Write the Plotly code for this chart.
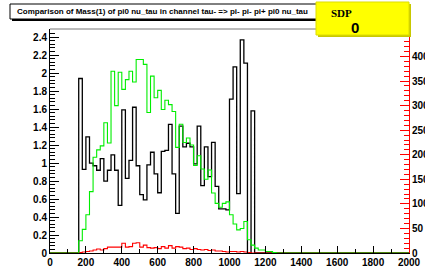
import plotly.graph_objects as go

# ---- data (bin width 20 MeV, 0..2000) ----
bin_width = 20
first_bin_black = 8
black_vals = [1.94, 0.93, 1.29, 1.00, 0.97, 0.92, 1.05, 0.80, 0.92, 1.09,
              0.92, 0.53, 1.59, 0.83, 1.03, 1.62, 0.97, 0.65, 0.59, 0.98,
              1.12, 0.88, 0.67, 1.13, 1.14, 1.43, 0.88, 0.44, 1.41, 1.18,
              1.22, 1.18, 0.99, 1.41, 0.75, 1.18, 0.85, 1.23, 0.74, 0.49,
              0.49, 0.48, 1.71, 2.07, 0.66, 2.37, 2.11, 0.00, 1.58]
first_bin_green = 8
green_vals = [25, 48, 78, 125, 195, 210, 218, 265, 224, 370,
              300, 368, 333, 353, 370, 348, 394, 394, 384, 286,
              360, 316, 331, 292, 311, 302, 288, 215, 262, 225,
              234, 220, 178, 198, 171, 150, 169, 122, 101, 93,
              101, 104, 78, 59, 47, 50, 64, 27, 16, 10,
              6, 6, 3, 3, 1]
first_bin_red = 8
red_vals = [1, 2, 3, 4, 6, 8, 6, 9, 12, 12,
            12, 12, 20, 12, 13, 20, 21, 12, 16, 11,
            10, 11, 9, 13, 10, 15, 10, 13, 12, 9,
            10, 7, 9, 7, 6, 7, 5, 6, 4, 4,
            3, 2, 3, 3, 2, 3, 2, 1, 0]

x_ticks = [0, 200, 400, 600, 800, 1000, 1200, 1400, 1600, 1800, 2000]
right_ticks = [0, 50, 100, 150, 200, 250, 300, 350, 400]
title_text = "Comparison of Mass(1) of pi0 nu_tau in channel tau- => pi- pi- pi+ pi0 nu_tau"
stat_label = "SDP"
stat_value = "0"

nbins = 100
edges = [i * bin_width for i in range(nbins + 1)]


def full(first, vals):
    arr = [0] * nbins
    for i, v in enumerate(vals):
        arr[first + i] = v
    return arr + [arr[-1]]


W, H = 425, 273
L, R, T, B = 50, 16, 29, 20
pw, ph = W - L - R, H - T - B


def px(x):
    return (x - L) / pw


def py(y):
    return (H - B - y) / ph


fig = go.Figure()
fig.add_trace(go.Scatter(x=edges, y=full(first_bin_black, black_vals), mode="lines",
                         line=dict(color="black", width=1.3, shape="hv"), yaxis="y"))
fig.add_trace(go.Scatter(x=edges, y=full(first_bin_red, red_vals), mode="lines",
                         line=dict(color="#ff0000", width=1.1, shape="hv"), yaxis="y2"))
fig.add_trace(go.Scatter(x=edges, y=full(first_bin_green, green_vals), mode="lines",
                         line=dict(color="#00ee00", width=1.1, shape="hv"), yaxis="y2"))

tickfont = dict(family="Liberation Sans, Arial", size=10, color="black", weight="bold")

fig.update_layout(
    width=W, height=H,
    margin=dict(l=L, r=R, t=T, b=B, pad=0),
    paper_bgcolor="white", plot_bgcolor="white",
    showlegend=False,
    xaxis=dict(range=[0, 2000], tickvals=x_ticks, ticks="inside", ticklen=7, tickcolor="black",
               showgrid=False, zeroline=False, showline=True, linecolor="black", linewidth=1,
               tickfont=tickfont, automargin=False,
               minor=dict(dtick=100, ticks="inside", ticklen=4, tickcolor="black")),
    yaxis=dict(range=[0, 2.49], dtick=0.2, ticks="inside", ticklen=9, tickcolor="black",
               showgrid=False, zeroline=False, showline=True, linecolor="black", linewidth=1,
               tickfont=tickfont, tickformat="~g", automargin=False,
               minor=dict(dtick=0.04, ticks="inside", ticklen=5, tickcolor="black")),
    yaxis2=dict(range=[0, 456], tickvals=right_ticks, ticks="inside", ticklen=9, tickcolor="#ff0000",
                overlaying="y", side="right", anchor="x", automargin=False,
                showgrid=False, zeroline=False, showline=True, linecolor="#ff0000", linewidth=1,
                tickfont=tickfont,
                minor=dict(dtick=10, ticks="inside", ticklen=5, tickcolor="#ff0000")),
)

shapes = []
# top frame line
shapes.append(dict(type="line", xref="paper", yref="paper", x0=0, x1=1, y0=1, y1=1,
                   line=dict(color="#777777", width=1)))
# title box with shadow
shapes.append(dict(type="rect", xref="paper", yref="paper", x0=px(12), x1=px(325), y0=py(6), y1=py(21),
                   fillcolor="black", line=dict(width=0)))
shapes.append(dict(type="rect", xref="paper", yref="paper", x0=px(10), x1=px(323), y0=py(4), y1=py(19),
                   fillcolor="white", line=dict(color="black", width=1)))
# stats box (yellow) with shadow
shapes.append(dict(type="rect", xref="paper", yref="paper", x0=px(318), x1=px(411), y0=py(4), y1=py(37),
                   fillcolor="#c8c800", line=dict(width=0)))
shapes.append(dict(type="rect", xref="paper", yref="paper", x0=px(316), x1=px(409), y0=py(2), y1=py(35),
                   fillcolor="#ffff00", line=dict(color="#dddd00", width=1)))
fig.update_layout(shapes=shapes)

fig.add_annotation(x=px(15), y=py(11.5), xref="paper", yref="paper", xanchor="left", yanchor="middle",
                   text=title_text, showarrow=False,
                   font=dict(family="Liberation Sans, Arial", size=8, color="black", weight="bold"))
fig.add_annotation(x=px(329), y=py(12.5), xref="paper", yref="paper", xanchor="left", yanchor="middle",
                   text=stat_label, showarrow=False,
                   font=dict(family="Liberation Serif, Times New Roman", size=11, color="black", weight="bold"))
fig.add_annotation(x=px(355), y=py(27), xref="paper", yref="paper", xanchor="center", yanchor="middle",
                   text=stat_value, showarrow=False,
                   font=dict(family="Liberation Sans, Arial", size=15, color="black", weight="bold"))

fig.write_html("out.html", config={"displayModeBar": False},
               post_script="document.body.style.margin='0';document.body.style.overflow='hidden';")
